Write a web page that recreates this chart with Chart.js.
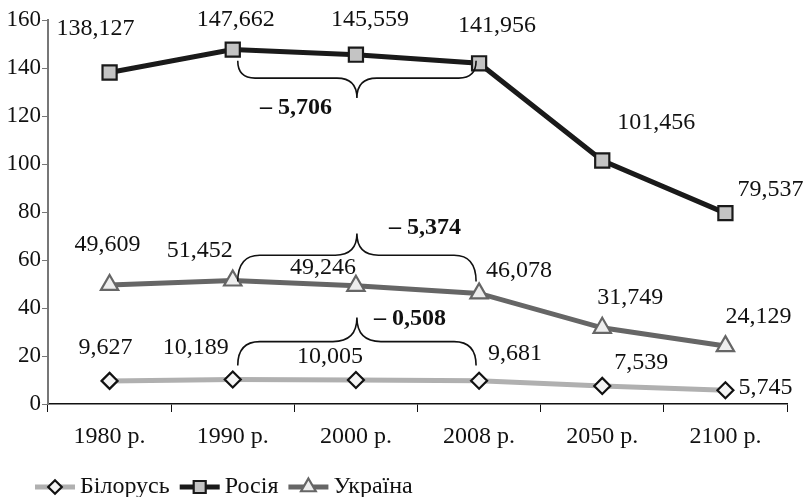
<!DOCTYPE html>
<html>
<head>
<meta charset="utf-8">
<script src="https://cdn.jsdelivr.net/npm/chart.js@4.4.1/dist/chart.umd.min.js"></script>
<style>
  html, body { margin: 0; padding: 0; background: #fff; }
  #wrap { width: 806px; height: 497px; position: relative; }
</style>
</head>
<body>
<div id="wrap"><canvas id="c"></canvas></div>
<script>
// Дані з рисунку (млн осіб)
const years    = ['1980 р.', '1990 р.', '2000 р.', '2008 р.', '2050 р.', '2100 р.'];
const belarus  = [9.627, 10.189, 10.005, 9.681, 7.539, 5.745];
const russia   = [138.127, 147.662, 145.559, 141.956, 101.456, 79.537];
const ukraine  = [49.609, 51.452, 49.246, 46.078, 31.749, 24.129];
const yTicks   = [0, 20, 40, 60, 80, 100, 120, 140, 160];
const braceLabels = ['– 5,706', '– 5,374', '– 0,508'];

const FONT = "'Liberation Serif', 'Times New Roman', serif";
const TXT  = '#111';

// зсуви підписів значень відносно точки (px)
const LABEL_OFFSETS = [
  [[-4, -33], [-37, -32], [-26, -23], [36, -27], [39, -23], [40, -3]],    // Білорусь
  [[-14, -44], [3, -30], [14, -35], [18, -38], [54, -38], [45, -23]],     // Росія
  [[-2, -40], [-33, -30], [-33, -18], [40, -23], [28, -30], [33, -29]],   // Україна
];

// фігурні дужки: від / до індексу, рівень кінців, рівень перемички, вістря (у значеннях осі y)
const BRACES = [
  { from: 1, to: 3, ends: 143, bar: 135.8, tip: 127.5, lx: 296, ly: 108 },
  { from: 1, to: 3, ends: 51,  bar: 62,    tip: 71,    lx: 425, ly: 228 },
  { from: 1, to: 3, ends: 16,  bar: 26,    tip: 36,    lx: 410, ly: 319 },
];

const fmt = v => v.toFixed(3).replace('.', ',');

const valueLabels = {
  id: 'valueLabels',
  afterDatasetsDraw(chart) {
    const ctx = chart.ctx;
    ctx.save();
    ctx.font = '24px ' + FONT;
    ctx.fillStyle = TXT;
    ctx.textAlign = 'center';
    ctx.textBaseline = 'middle';
    chart.data.datasets.forEach((ds, di) => {
      chart.getDatasetMeta(di).data.forEach((pt, i) => {
        const o = LABEL_OFFSETS[di][i];
        ctx.fillText(fmt(ds.data[i]), pt.x + o[0], pt.y + o[1]);
      });
    });
    ctx.restore();
  }
};

const braces = {
  id: 'braces',
  afterDatasetsDraw(chart) {
    const ctx = chart.ctx;
    const xs = chart.scales.x, ys = chart.scales.y;
    ctx.save();
    ctx.strokeStyle = '#111';
    ctx.lineWidth = 1.6;
    BRACES.forEach((b, k) => {
      const x1 = xs.getPixelForValue(b.from) + 5;
      const x2 = xs.getPixelForValue(b.to) - 3;
      const xm = (x1 + x2) / 2;
      const ye = ys.getPixelForValue(b.ends);
      const yb = ys.getPixelForValue(b.bar);
      const yt = ys.getPixelForValue(b.tip);
      const r = Math.min(22, Math.abs(yb - ye));
      const q = Math.abs(yt - yb);
      ctx.beginPath();
      ctx.moveTo(x1, ye);
      ctx.quadraticCurveTo(x1, yb, x1 + r, yb);
      ctx.lineTo(xm - q, yb);
      ctx.quadraticCurveTo(xm, yb, xm, yt);
      ctx.quadraticCurveTo(xm, yb, xm + q, yb);
      ctx.lineTo(x2 - r, yb);
      ctx.quadraticCurveTo(x2, yb, x2, ye);
      ctx.stroke();
      ctx.font = 'bold 24px ' + FONT;
      ctx.fillStyle = TXT;
      ctx.textAlign = 'center';
      ctx.textBaseline = 'middle';
      ctx.fillText(braceLabels[k], b.lx, b.ly);
    });
    ctx.restore();
  }
};

const bottomLegend = {
  id: 'bottomLegend',
  afterDraw(chart) {
    const ctx = chart.ctx;
    const y = 487;
    let x = 35;
    ctx.save();
    ctx.font = '24px ' + FONT;
    ctx.textBaseline = 'middle';
    chart.data.datasets.forEach(ds => {
      ctx.strokeStyle = ds.borderColor;
      ctx.lineWidth = ds.borderWidth;
      ctx.beginPath();
      ctx.moveTo(x, y);
      ctx.lineTo(x + 40, y);
      ctx.stroke();
      ctx.fillStyle = ds.pointBackgroundColor;
      ctx.strokeStyle = ds.pointBorderColor;
      ctx.lineWidth = ds.pointBorderWidth;
      Chart.helpers.drawPoint(ctx, {
        pointStyle: ds.pointStyle,
        radius: ds.pointRadius * 0.85,
        borderWidth: ds.pointBorderWidth,
        rotation: 0
      }, x + 20, y);
      ctx.fillStyle = TXT;
      ctx.fillText(ds.label, x + 45, y);
      x += 45 + ctx.measureText(ds.label).width + 10;
    });
    ctx.restore();
  }
};

new Chart(document.getElementById('c'), {
  type: 'line',
  data: {
    labels: years,
    datasets: [
      {
        label: 'Білорусь',
        data: belarus,
        borderColor: '#b0b0b0',
        borderWidth: 5,
        pointStyle: 'rectRot',
        pointRadius: 8,
        pointBackgroundColor: '#f4f4f4',
        pointBorderColor: '#111',
        pointBorderWidth: 2.2,
      },
      {
        label: 'Росія',
        data: russia,
        borderColor: '#1a1a1a',
        borderWidth: 5,
        pointStyle: 'rect',
        pointRadius: 10,
        pointBackgroundColor: '#c4c4c4',
        pointBorderColor: '#1a1a1a',
        pointBorderWidth: 2.2,
      },
      {
        label: 'Україна',
        data: ukraine,
        borderColor: '#666666',
        borderWidth: 5,
        pointStyle: 'triangle',
        pointRadius: 10,
        pointBackgroundColor: '#eeeeee',
        pointBorderColor: '#666666',
        pointBorderWidth: 2.2,
      },
    ],
  },
  options: {
    responsive: true,
    maintainAspectRatio: false,
    animation: false,
    layout: { padding: { top: 20, right: 19, left: 0, bottom: 0 } },
    plugins: { legend: { display: false }, tooltip: { enabled: false } },
    scales: {
      x: {
        offset: true,
        grid: { drawOnChartArea: false, drawTicks: true, tickLength: 8, color: '#111', offset: true },
        border: { color: '#111', width: 1.5 },
        ticks: { color: TXT, font: { family: FONT, size: 24 }, padding: 10 },
        afterFit(s) { s.height = 93; },
      },
      y: {
        min: 0,
        max: 160,
        afterBuildTicks(s) { s.ticks = yTicks.map(v => ({ value: v })); },
        grid: { drawOnChartArea: false, drawTicks: true, tickLength: 6, color: '#777' },
        border: { color: '#777', width: 2 },
        ticks: { color: TXT, font: { family: FONT, size: 23 }, padding: 1 },
        afterFit(s) { s.width = 48; },
      },
    },
  },
  plugins: [braces, valueLabels, bottomLegend],
});
</script>
</body>
</html>
